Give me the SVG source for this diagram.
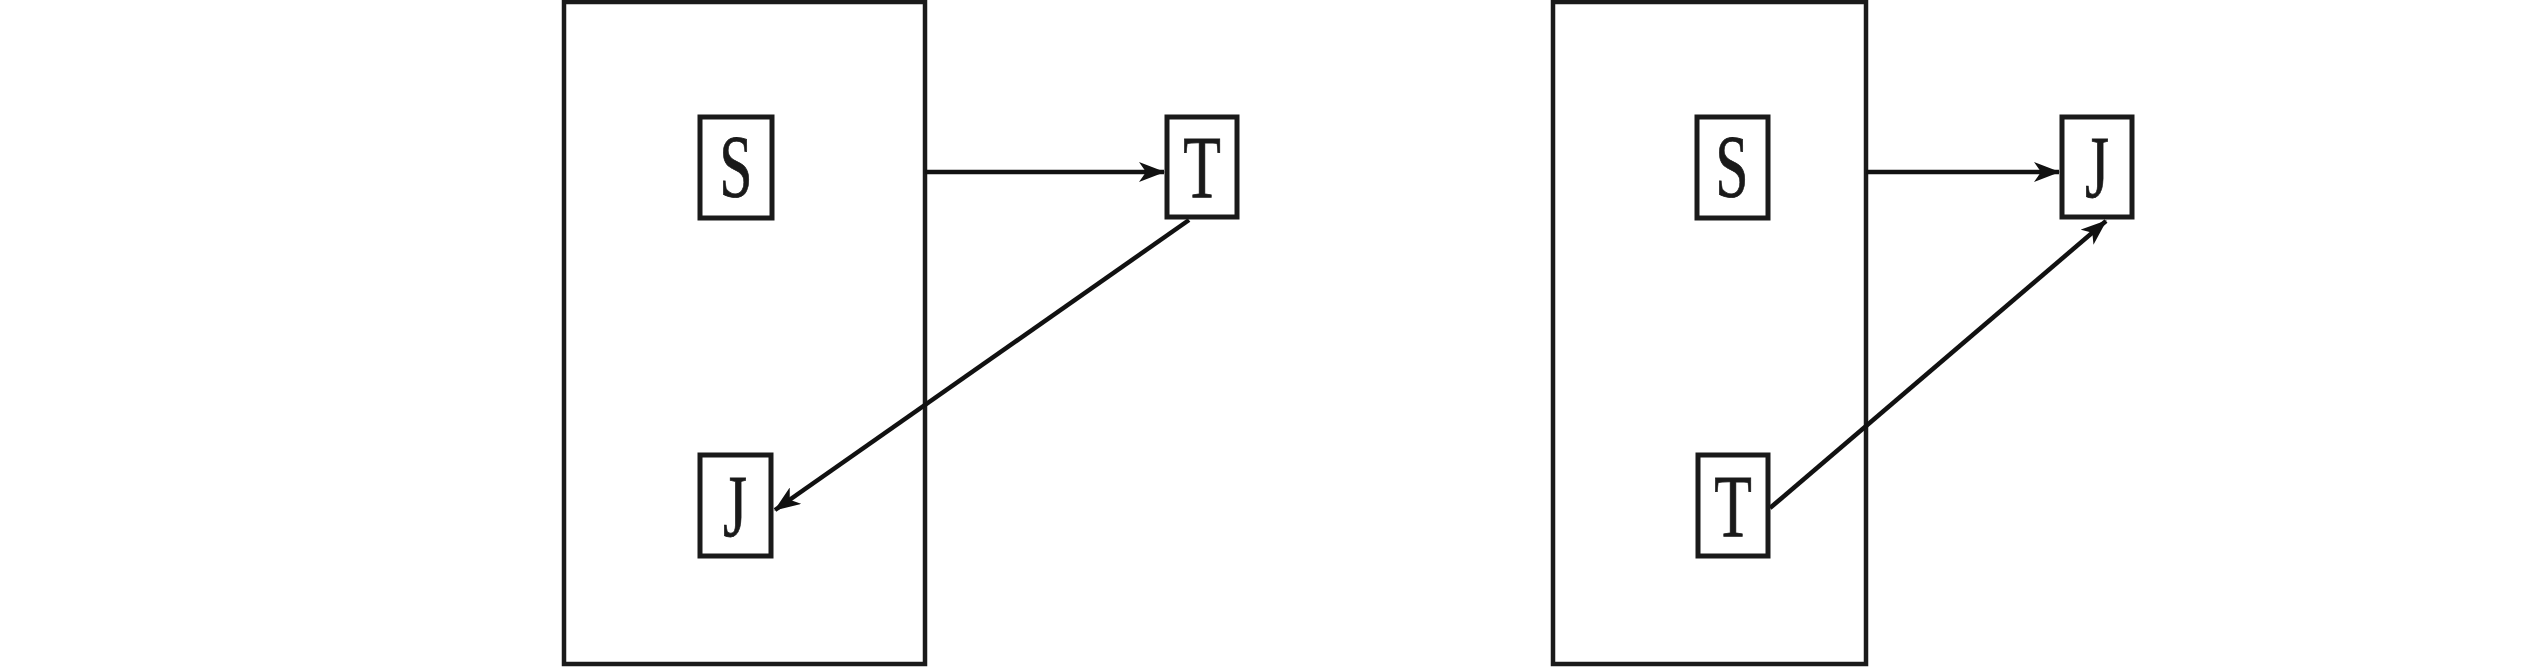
<svg xmlns="http://www.w3.org/2000/svg" width="2532" height="672" viewBox="0 0 2532 672">
<style>
.frame{fill:none;stroke:#1a1a1a;stroke-width:4.5}
.box{fill:#fff;stroke:#1a1a1a;stroke-width:5}
.lbl{font-family:"Liberation Serif","Times New Roman",serif;font-size:88px;fill:#1a1a1a;stroke:#1a1a1a;stroke-width:0.8;text-anchor:middle}
.edge{fill:none;stroke:#111;stroke-width:4.5}
</style>
<defs>
<marker id="ah" markerWidth="26" markerHeight="20" refX="25" refY="10" orient="auto" markerUnits="userSpaceOnUse">
<path d="M0,0 L26,10 L0,20 L7,10 Z" fill="#111"/>
</marker>
</defs>
<rect width="2532" height="672" fill="#fff"/>
<g id="frame-left"><rect class="frame" x="564" y="2" width="361" height="662"/></g>
<g id="frame-right"><rect class="frame" x="1553" y="2" width="313" height="662"/></g>
<g id="connectors">
<line class="edge" x1="925" y1="172" x2="1164" y2="172" marker-end="url(#ah)"/>
<line class="edge" x1="1189" y1="220" x2="775" y2="510" marker-end="url(#ah)"/>
<line class="edge" x1="1866" y1="172" x2="2059" y2="172" marker-end="url(#ah)"/>
<line class="edge" x1="1770" y1="508" x2="2106" y2="221" marker-end="url(#ah)"/>
</g>
<g id="node-S1"><rect class="box" x="700" y="117" width="72" height="101"/><text class="lbl" transform="translate(736,196) scale(0.68,1)">S</text></g>
<g id="node-T1"><rect class="box" x="1167" y="117" width="70" height="100"/><text class="lbl" transform="translate(1202,197) scale(0.7,1)">T</text></g>
<g id="node-J1"><rect class="box" x="700" y="455" width="71" height="101"/><text class="lbl" transform="translate(735,536) scale(0.7,1)">J</text></g>
<g id="node-S2"><rect class="box" x="1697" y="117" width="71" height="101"/><text class="lbl" transform="translate(1732,196) scale(0.68,1)">S</text></g>
<g id="node-J2"><rect class="box" x="2062" y="117" width="70" height="100"/><text class="lbl" transform="translate(2097,197) scale(0.7,1)">J</text></g>
<g id="node-T2"><rect class="box" x="1698" y="455" width="70" height="101"/><text class="lbl" transform="translate(1733,536) scale(0.7,1)">T</text></g>
</svg>
